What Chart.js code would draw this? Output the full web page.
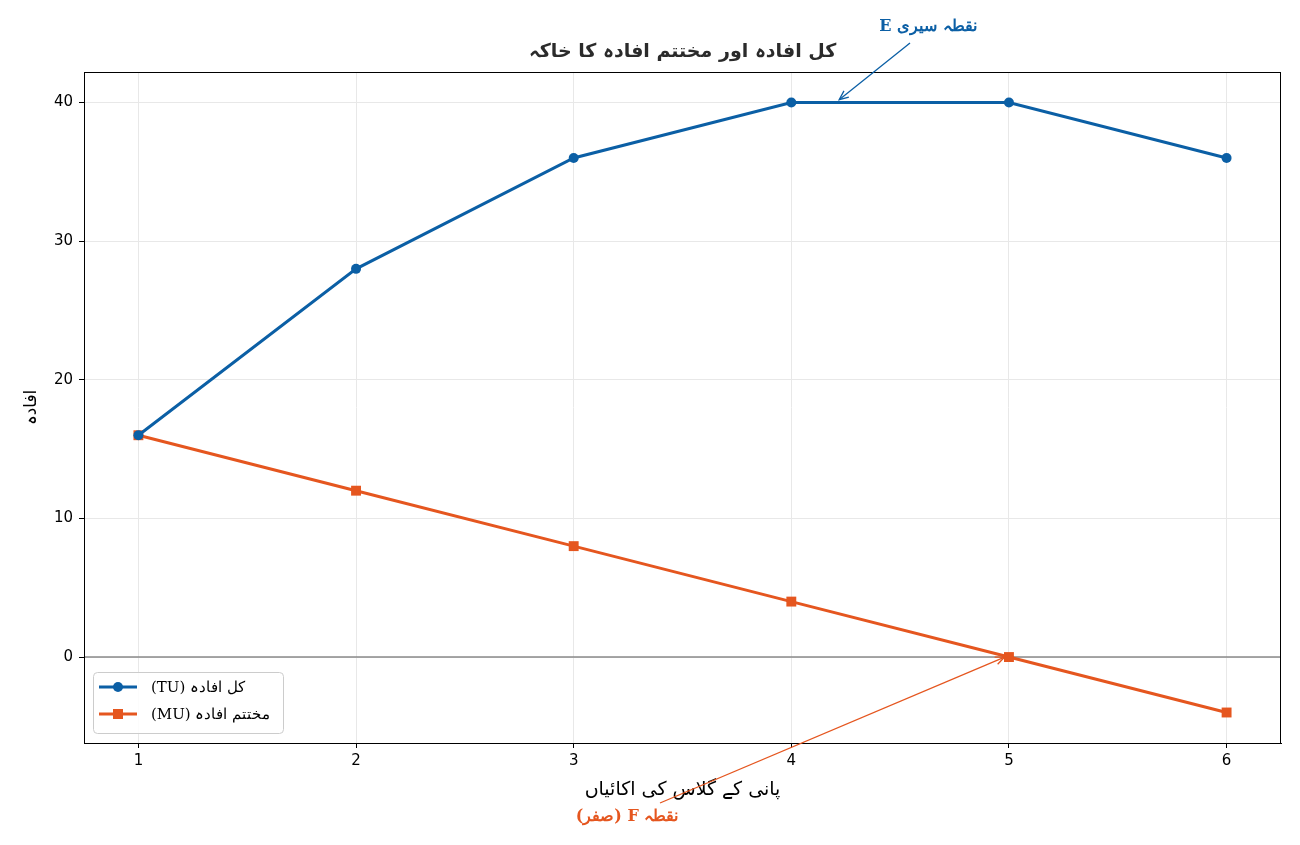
<!DOCTYPE html>
<html>
<head>
<meta charset="utf-8">
<script src="https://cdn.jsdelivr.net/npm/chart.js@4"></script>
<style>
  body { margin: 0; background: #fff; }
  #wrap { width: 1300px; height: 845px; }
</style>
</head>
<body>
<div id="wrap"><canvas id="chart" width="1300" height="845"></canvas></div>
<script>
// data
const units = [1, 2, 3, 4, 5, 6];
const totalUtility = [16, 28, 36, 40, 40, 36];
const marginalUtility = [16, 12, 8, 4, 0, -4];
const yTicks = [0, 10, 20, 30, 40];

const titleText = 'کل افادہ اور مختتم افادہ کا خاکہ';
const xLabel = 'پانی کے گلاس کی اکائیاں';
const yLabel = 'افادہ';
const tuLabel = '(TU) کل افادہ';
const muLabel = '(MU) مختتم افادہ';

const blue = '#0b5fa5';
const orange = '#e5561f';

function arrow(ctx, x1, y1, x2, y2, color) {
  ctx.save();
  ctx.strokeStyle = color;
  ctx.lineWidth = 1.3;
  ctx.beginPath();
  ctx.moveTo(x1, y1);
  ctx.lineTo(x2, y2);
  ctx.stroke();
  const a = Math.atan2(y2 - y1, x2 - x1);
  const h = 10;
  ctx.beginPath();
  ctx.moveTo(x2 - h * Math.cos(a - 0.4), y2 - h * Math.sin(a - 0.4));
  ctx.lineTo(x2, y2);
  ctx.lineTo(x2 - h * Math.cos(a + 0.4), y2 - h * Math.sin(a + 0.4));
  ctx.stroke();
  ctx.restore();
}

const extras = {
  id: 'extras',
  beforeDatasetsDraw(chart) {
    const { ctx, chartArea: ca, scales: { y } } = chart;
    const y0 = y.getPixelForValue(0);
    ctx.save();
    ctx.strokeStyle = '#8a8a8a';
    ctx.lineWidth = 1.5;
    ctx.beginPath();
    ctx.moveTo(ca.left, y0);
    ctx.lineTo(ca.right, y0);
    ctx.stroke();
    ctx.restore();
  },
  afterDraw(chart) {
    const { ctx, chartArea: ca, scales: { x, y } } = chart;
    ctx.save();
    // frame
    ctx.strokeStyle = '#000';
    ctx.lineWidth = 1;
    ctx.strokeRect(ca.left + 0.5, ca.top + 0.5, ca.right - ca.left - 1, ca.bottom - ca.top);

    // title
    ctx.fillStyle = '#2b2b2b';
    ctx.font = 'bold 19px "DejaVu Sans"';
    ctx.textAlign = 'center';
    ctx.textBaseline = 'middle';
    ctx.fillText(titleText, (ca.left + ca.right) / 2, 52);

    // axis titles
    ctx.fillStyle = '#000';
    ctx.font = '19px "DejaVu Sans"';
    ctx.fillText(xLabel, (ca.left + ca.right) / 2, 790);
    ctx.font = '17px "DejaVu Sans"';
    ctx.save();
    ctx.translate(32, (ca.top + ca.bottom) / 2);
    ctx.rotate(-Math.PI / 2);
    ctx.fillText(yLabel, 0, 0);
    ctx.restore();

    // legend
    ctx.fillStyle = 'rgba(255,255,255,0.85)';
    ctx.strokeStyle = '#cccccc';
    ctx.lineWidth = 1;
    ctx.beginPath();
    ctx.roundRect(93.5, 672.5, 190, 61, 4);
    ctx.fill();
    ctx.stroke();
    const rows = [[tuLabel, blue, 'circle', 687], [muLabel, orange, 'rect', 714]];
    rows.forEach(([label, color, shape, ly]) => {
      ctx.strokeStyle = color;
      ctx.lineWidth = 3;
      ctx.beginPath();
      ctx.moveTo(99, ly);
      ctx.lineTo(137, ly);
      ctx.stroke();
      ctx.fillStyle = color;
      if (shape === 'circle') {
        ctx.beginPath();
        ctx.arc(118, ly, 5, 0, Math.PI * 2);
        ctx.fill();
      } else {
        ctx.fillRect(113, ly - 5, 10, 10);
      }
      ctx.fillStyle = '#000';
      ctx.font = '15px "DejaVu Serif"';
      ctx.textAlign = 'left';
      ctx.fillText(label, 151, ly + 1);
    });

    // annotation E
    const ex = x.getPixelForValue(4.22), ey = y.getPixelForValue(40.2);
    arrow(ctx, 910, 43, ex, ey, blue);
    ctx.fillStyle = blue;
    ctx.font = 'bold 16px "DejaVu Serif"';
    ctx.textAlign = 'center';
    ctx.fillText('E نقطہ سیری', 928, 27);

    // annotation F
    const fx = x.getPixelForValue(4.98), fy = y.getPixelForValue(0);
    arrow(ctx, 660, 803, fx, fy, orange);
    ctx.fillStyle = orange;
    ctx.fillText('(صفر) F نقطہ', 627, 817);
    ctx.restore();
  }
};

new Chart(document.getElementById('chart'), {
  type: 'line',
  data: {
    labels: units,
    datasets: [
      {
        label: tuLabel,
        data: units.map((u, i) => ({ x: u, y: totalUtility[i] })),
        borderColor: blue,
        backgroundColor: blue,
        borderWidth: 3,
        pointStyle: 'circle',
        pointRadius: 5,
        pointBorderWidth: 0,
        pointHoverRadius: 5,
        tension: 0
      },
      {
        label: muLabel,
        data: units.map((u, i) => ({ x: u, y: marginalUtility[i] })),
        borderColor: orange,
        backgroundColor: orange,
        borderWidth: 3,
        pointStyle: 'rect',
        pointRadius: 7,
        pointBorderWidth: 0,
        pointHoverRadius: 7,
        tension: 0
      }
    ]
  },
  options: {
    responsive: false,
    animation: false,
    events: [],
    layout: { padding: { top: 72, right: 19, bottom: 72, left: 0 } },
    plugins: { legend: { display: false }, tooltip: { enabled: false }, title: { display: false } },
    scales: {
      x: {
        type: 'linear',
        min: 0.75,
        max: 6.25,
        afterFit: s => { s.height = 30; },
        afterBuildTicks: s => { s.ticks = units.map(v => ({ value: v })); },
        grid: { color: '#e8e8e8', tickColor: '#000', tickLength: 5 },
        border: { color: '#000' },
        ticks: { color: '#000', font: { family: 'DejaVu Sans', size: 15 }, padding: 4 }
      },
      y: {
        min: -6.2,
        max: 42.2,
        afterFit: s => { s.width = 84; },
        afterBuildTicks: s => { s.ticks = yTicks.map(v => ({ value: v })); },
        grid: { color: '#e8e8e8', tickColor: '#000', tickLength: 5 },
        border: { color: '#000' },
        ticks: { color: '#000', font: { family: 'DejaVu Sans', size: 15 }, padding: 6 }
      }
    }
  },
  plugins: [extras]
});
</script>
</body>
</html>
